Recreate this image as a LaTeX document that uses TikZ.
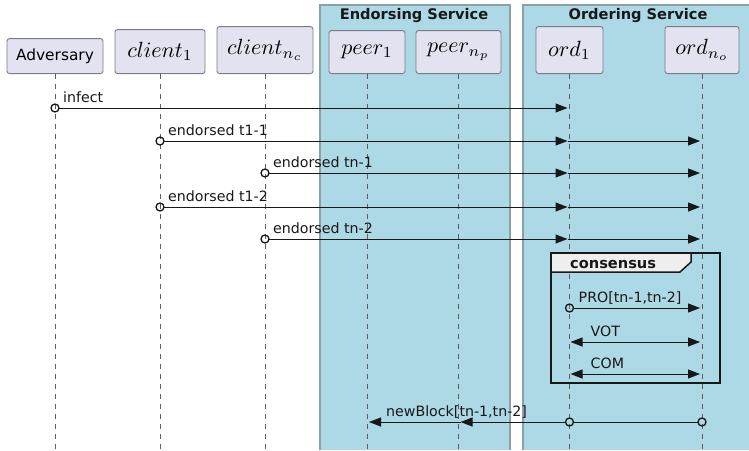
\documentclass[tikz,border=0pt]{standalone}
\usepackage[no-math]{fontspec}
\setmainfont{DejaVu Sans}
\usetikzlibrary{arrows.meta,calc}

\definecolor{partfill}{HTML}{E2E2F0}
\definecolor{partline}{HTML}{7C7C86}
\definecolor{grpfill}{HTML}{ADD8E6}
\definecolor{grpline}{HTML}{8A9FA6}
\definecolor{ink}{HTML}{181818}
\definecolor{tabfill}{HTML}{EEEEEE}

\newcommand{\pname}[1]{\scalebox{2.2}{$#1$}}

\tikzset{
  part/.style={draw=partline, fill=partfill, line width=0.9pt, rounded corners=2.5pt,
    anchor=south, inner sep=0pt},
  lifeline/.style={draw=ink!70, line width=0.7pt, dash pattern=on 5pt off 5pt},
  msg/.style={draw=ink, line width=1pt},
  tip/.style={-{Triangle[length=12pt,width=9pt]}},
  bitip/.style={{Triangle[length=12pt,width=9pt]}-{Triangle[length=12pt,width=9pt]}},
  src/.style={draw=ink, line width=1.3pt},
  lbl/.style={anchor=base west, inner sep=0pt, font=\fontsize{14.2}{16}\selectfont, text=ink},
  grptitle/.style={anchor=base, inner sep=0pt, font=\fontsize{14.6}{16}\selectfont\bfseries, text=ink},
}

\begin{document}
\begin{tikzpicture}[x=1pt, y=-1pt]
\useasboundingbox (0,0) rectangle (749,450);

% service groups
\fill[grpfill] (320,5) rectangle (510,450);
\draw[grpline, line width=1.5pt] (320,450) -- (320,5) -- (510,5) -- (510,450);
\fill[grpfill] (523,5) rectangle (749,450);
\draw[grpline, line width=1.5pt] (523,450) -- (523,5) -- (749,5);
\node[grptitle] (tEnd) at (414,19) {Endorsing Service};
\node[grptitle] (tOrd) at (638,19) {Ordering Service};

% participants
\node[part, minimum width=96pt, minimum height=35pt, font=\fontsize{15.4}{17}\selectfont] (adv) at (55,74) {Adversary};
\node[part, minimum width=90pt, minimum height=44pt] (c1) at (160,74) {\pname{client_1}};
\node[part, minimum width=96pt, minimum height=47pt] (cn) at (265,74) {\pname{client_{n_c}}};
\node[part, minimum width=76pt, minimum height=43pt] (p1) at (367,74) {\pname{peer_1}};
\node[part, minimum width=85pt, minimum height=43pt] (pn) at (458.5,74) {\pname{peer_{n_p}}};
\node[part, minimum width=67pt, minimum height=47pt] (o1) at (569.5,74) {\pname{ord_1}};
\node[part, minimum width=74pt, minimum height=47pt] (on) at (702,74) {\pname{ord_{n_o}}};

% lifelines
\coordinate (bot) at (0,450);
\foreach \p in {adv,c1,cn,p1,pn,o1,on}
  \draw[lifeline] (\p.south) -- (\p.south |- bot);

% message rows
\coordinate (r1) at (0,108);
\coordinate (r2) at (0,141);
\coordinate (r3) at (0,173);
\coordinate (r4) at (0,207);
\coordinate (r5) at (0,239);
\coordinate (r6) at (0,308);
\coordinate (r7) at (0,342);
\coordinate (r8) at (0,374);
\coordinate (r9) at (0,422);

% infect
\draw[src] (adv |- r1) circle (4pt);
\draw[msg, tip] ($(adv |- r1)+(4,0)$) -- ($(o1 |- r1)+(-2,0)$);
\node[lbl] (l1) at ($(adv |- r1)+(8,-6)$) {infect};

% endorsed transactions to both orderers
\foreach \r/\c/\t in {r2/c1/endorsed t1-1, r3/cn/endorsed tn-1, r4/c1/endorsed t1-2, r5/cn/endorsed tn-2}{
  \draw[src] (\c |- \r) circle (4pt);
  \draw[msg, tip] ($(\c |- \r)+(4,0)$) -- ($(o1 |- \r)+(-2,0)$);
  \draw[msg, tip] ($(o1 |- \r)+(-2,0)$) -- ($(on |- \r)+(-2,0)$);
  \node[lbl] at ($(\c |- \r)+(8,-6)$) {\t};
}

% consensus fragment
\draw[ink, line width=1.5pt] (551,253) rectangle (720,383);
\draw[ink, line width=1.5pt, fill=tabfill] (551,253) -- (691,253) -- (691,262) -- (680,272) -- (551,272) -- cycle;
\node[anchor=base west, inner sep=0pt, font=\fontsize{14.6}{16}\selectfont\bfseries, text=ink] (frm) at (570,268) {consensus};

\draw[src] (o1 |- r6) circle (4pt);
\draw[msg, tip] ($(o1 |- r6)+(4,0)$) -- ($(on |- r6)+(-2,0)$);
\node[lbl] at ($(o1 |- r6)+(9,-6)$) {PRO[tn-1,tn-2]};

\draw[msg, bitip] ($(o1 |- r7)+(1,0)$) -- ($(on |- r7)+(-2,0)$);
\node[lbl] at ($(o1 |- r7)+(21,-6)$) {VOT};
\draw[msg, bitip] ($(o1 |- r8)+(1,0)$) -- ($(on |- r8)+(-2,0)$);
\node[lbl] at ($(o1 |- r8)+(21,-6)$) {COM};

% new block to the peers
\draw[src] (on |- r9) circle (4pt);
\draw[src] (o1 |- r9) circle (4pt);
\draw[msg] ($(on |- r9)+(-4,0)$) -- ($(o1 |- r9)+(4,0)$);
\draw[msg, tip] ($(o1 |- r9)+(-4,0)$) -- ($(pn |- r9)+(2,0)$);
\draw[msg, tip] ($(pn |- r9)+(2,0)$) -- ($(p1 |- r9)+(2,0)$);
\node[lbl] at ($(p1 |- r9)+(19,-6)$) {newBlock[tn-1,tn-2]};
\end{tikzpicture}
\end{document}
